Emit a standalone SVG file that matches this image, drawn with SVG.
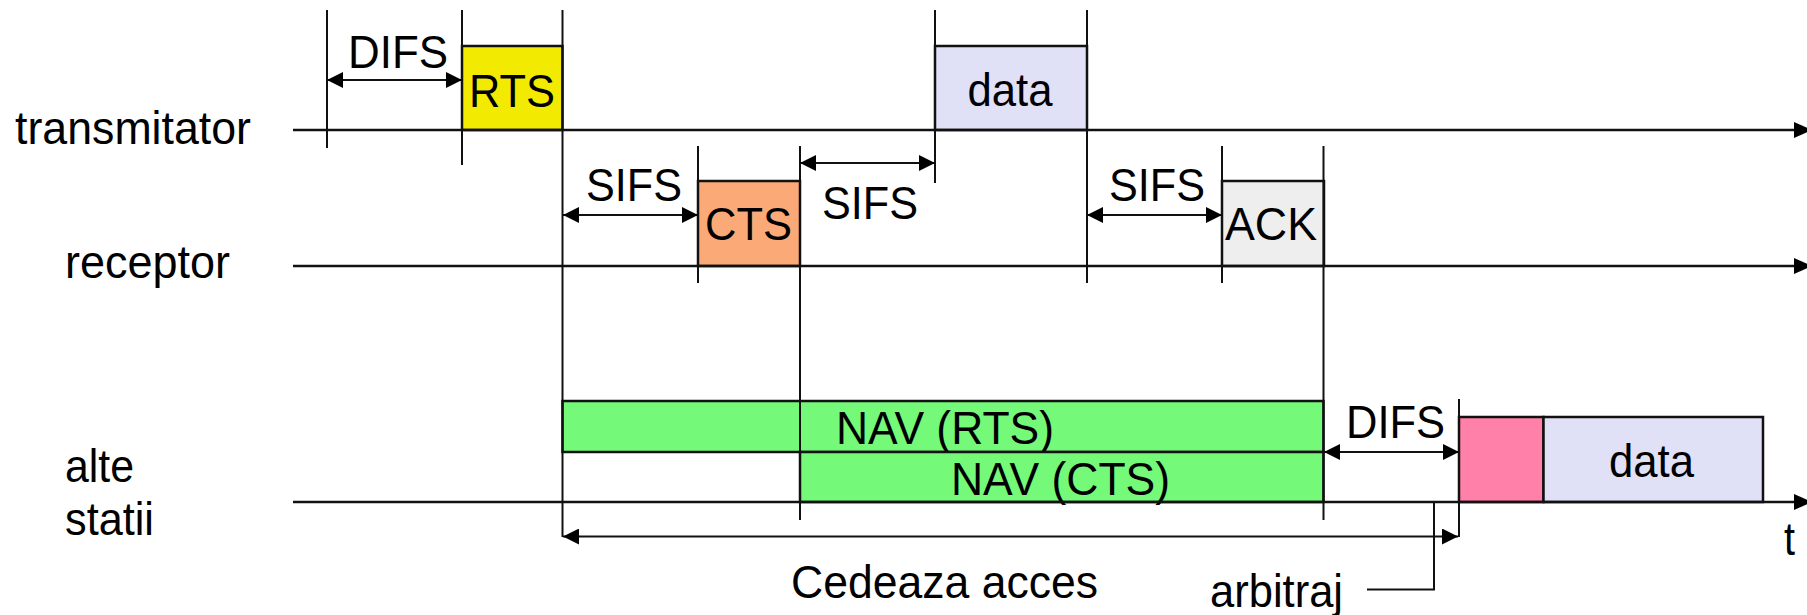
<svg xmlns="http://www.w3.org/2000/svg" width="1807" height="615" viewBox="0 0 1807 615">
<style>
text{font-family:"Liberation Sans",Arial,sans-serif;font-size:46px;fill:#000}
.c{text-anchor:middle}
.ln{stroke:#111;stroke-width:2;fill:none}
.ax{stroke:#111;stroke-width:2.5;fill:none}
.box{stroke:#111;stroke-width:2.5}
.dim{stroke:#111;stroke-width:2;fill:none;marker-start:url(#ah);marker-end:url(#ah)}
</style>
<defs>
<marker id="ah" viewBox="0 0 16 16" refX="16" refY="8" markerWidth="16" markerHeight="16" markerUnits="userSpaceOnUse" orient="auto-start-reverse">
<path d="M0,0 L16,8 L0,16 Z" fill="#000"/>
</marker>
<marker id="ax" viewBox="0 0 18 16" refX="18" refY="8" markerWidth="18" markerHeight="16" markerUnits="userSpaceOnUse" orient="auto">
<path d="M0,0 L18,8 L0,16 Z" fill="#000"/>
</marker>
</defs>

<g id="labels">
<text x="15" y="144" textLength="236" lengthAdjust="spacingAndGlyphs">transmitator</text>
<text x="65" y="278" textLength="165" lengthAdjust="spacingAndGlyphs">receptor</text>
<text x="65" y="482" textLength="69" lengthAdjust="spacingAndGlyphs">alte</text>
<text x="65" y="535" textLength="89" lengthAdjust="spacingAndGlyphs">statii</text>
<text x="1784" y="555" textLength="11" lengthAdjust="spacingAndGlyphs">t</text>
</g>

<g id="nav-rts"><rect class="box" x="562.5" y="401" width="761" height="51" fill="#75F978"/><text class="c" x="945" y="444" textLength="218" lengthAdjust="spacingAndGlyphs">NAV (RTS)</text></g>
<g id="nav-cts"><rect class="box" x="800" y="452" width="523.5" height="50" fill="#75F978"/><text class="c" x="1060.5" y="495" textLength="219" lengthAdjust="spacingAndGlyphs">NAV (CTS)</text></g>
<g id="rts"><rect class="box" x="462" y="46" width="100.5" height="84" fill="#F2EA00"/><text class="c" x="512" y="107" textLength="86" lengthAdjust="spacingAndGlyphs">RTS</text></g>
<g id="cts"><rect class="box" x="698" y="181" width="102" height="85" fill="#FCA978"/><text class="c" x="748.5" y="240" textLength="87" lengthAdjust="spacingAndGlyphs">CTS</text></g>
<g id="data1"><rect class="box" x="935" y="46" width="152" height="84" fill="#E0E0F7"/><text class="c" x="1010" y="106" textLength="85" lengthAdjust="spacingAndGlyphs">data</text></g>
<g id="ack"><rect class="box" x="1222" y="181" width="102" height="85" fill="#EEEEEE"/><text class="c" x="1271" y="240" textLength="92" lengthAdjust="spacingAndGlyphs">ACK</text></g>
<g id="pink"><rect class="box" x="1459" y="417" width="84.5" height="85" fill="#FF80A8"/></g>
<g id="data2"><rect class="box" x="1543.5" y="417" width="219.5" height="85" fill="#E0E0F7"/><text class="c" x="1651.5" y="477" textLength="85" lengthAdjust="spacingAndGlyphs">data</text></g>

<g id="connectors">
<line class="ax" x1="293" y1="130" x2="1812" y2="130" marker-end="url(#ax)"/>
<line class="ax" x1="293" y1="266" x2="1812" y2="266" marker-end="url(#ax)"/>
<line class="ax" x1="293" y1="502" x2="1812" y2="502" marker-end="url(#ax)"/>
<line class="ln" x1="327" y1="10" x2="327" y2="148"/>
<line class="ln" x1="462" y1="10" x2="462" y2="165"/>
<line class="ln" x1="562.5" y1="10" x2="562.5" y2="537"/>
<line class="ln" x1="698" y1="146" x2="698" y2="283"/>
<line class="ln" x1="800" y1="146" x2="800" y2="520"/>
<line class="ln" x1="935" y1="10" x2="935" y2="183"/>
<line class="ln" x1="1087" y1="10" x2="1087" y2="283"/>
<line class="ln" x1="1222" y1="146" x2="1222" y2="283"/>
<line class="ln" x1="1323.5" y1="146" x2="1323.5" y2="520"/>
<line class="ln" x1="1459" y1="399" x2="1459" y2="537"/>
<line class="dim" x1="327" y1="80" x2="462" y2="80"/>
<line class="dim" x1="563" y1="215" x2="698" y2="215"/>
<line class="dim" x1="800" y1="163" x2="935" y2="163"/>
<line class="dim" x1="1087" y1="215" x2="1222" y2="215"/>
<line class="dim" x1="1324" y1="452" x2="1459" y2="452"/>
<line class="dim" x1="563" y1="536.5" x2="1458" y2="536.5"/>
<polyline class="ln" points="1367,589.5 1434,589.5 1434,502"/>
</g>

<g id="dim-labels">
<text class="c" x="398" y="68" textLength="100" lengthAdjust="spacingAndGlyphs">DIFS</text>
<text class="c" x="634" y="201" textLength="96" lengthAdjust="spacingAndGlyphs">SIFS</text>
<text class="c" x="870" y="219" textLength="96" lengthAdjust="spacingAndGlyphs">SIFS</text>
<text class="c" x="1157" y="201" textLength="96" lengthAdjust="spacingAndGlyphs">SIFS</text>
<text class="c" x="1395.5" y="438" textLength="99" lengthAdjust="spacingAndGlyphs">DIFS</text>
<text class="c" x="944.5" y="598" textLength="307" lengthAdjust="spacingAndGlyphs">Cedeaza acces</text>
<text x="1210" y="607" textLength="133" lengthAdjust="spacingAndGlyphs">arbitraj</text>
</g>
</svg>
